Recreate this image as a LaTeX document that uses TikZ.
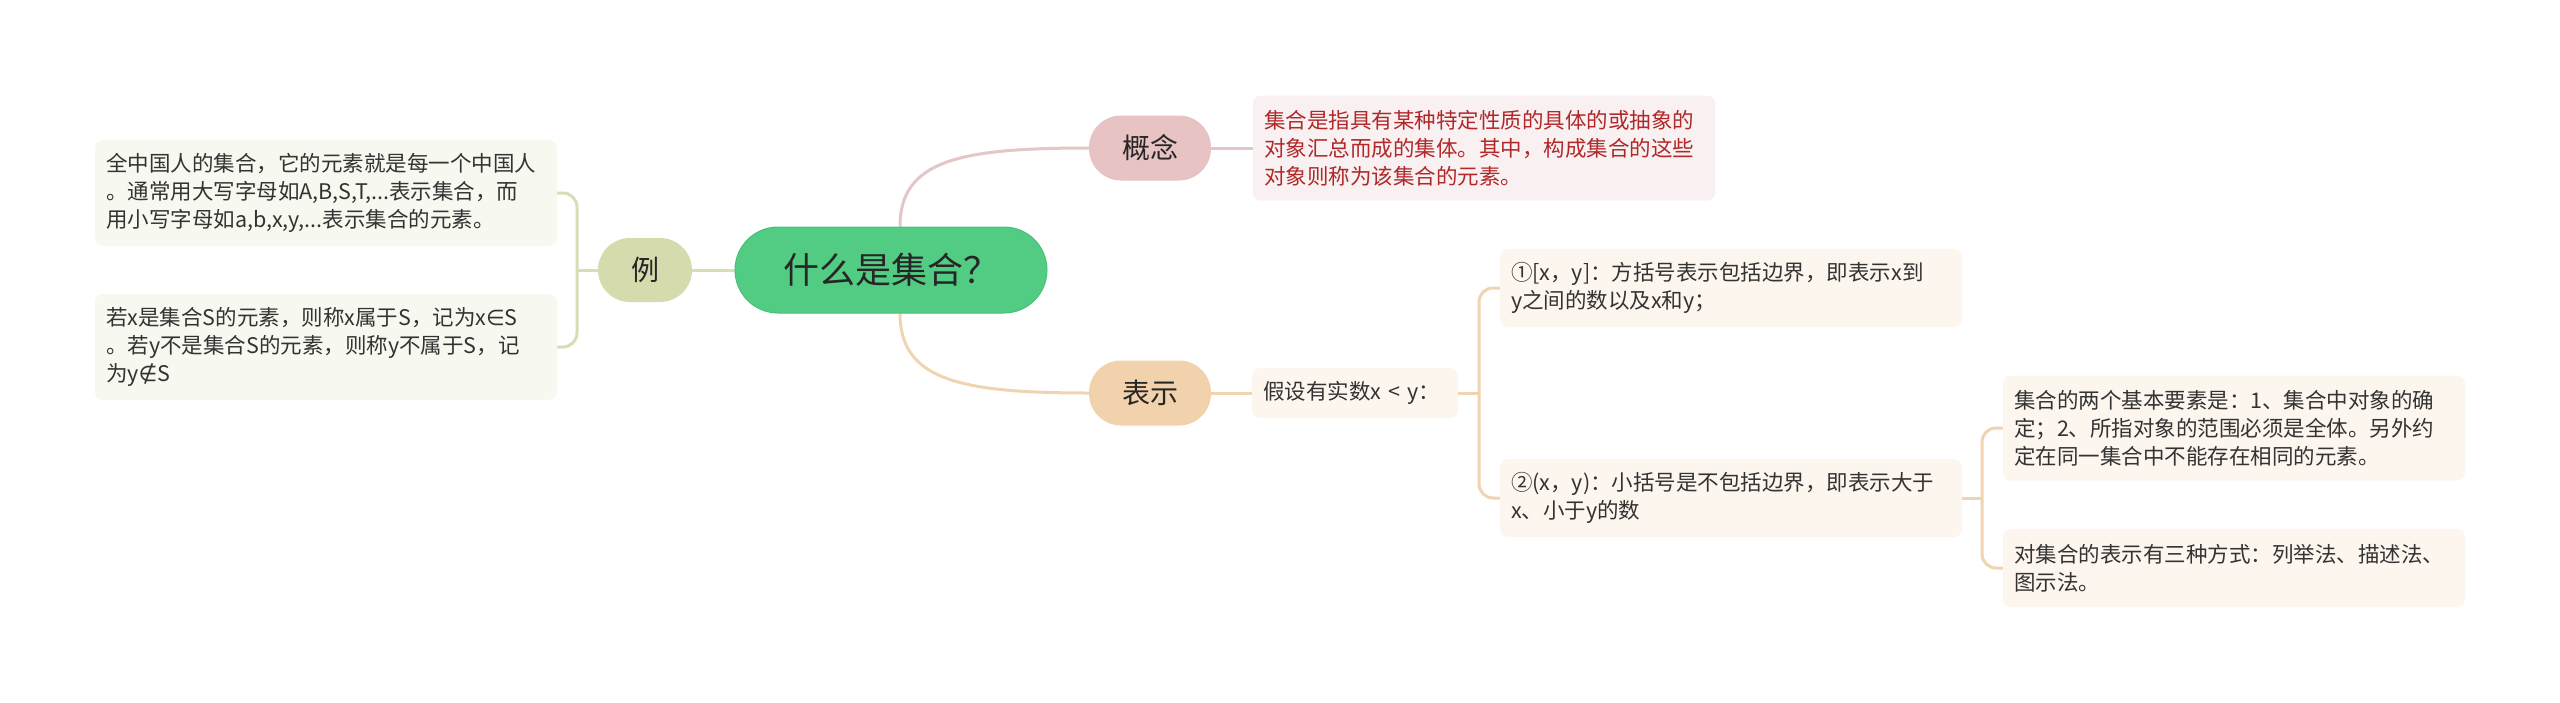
\documentclass[tikz,border=0pt]{standalone}
\usepackage{fontspec}
\setmainfont{Noto Sans CJK SC}
\newfontfamily\symfont{DejaVu Sans}
\usetikzlibrary{backgrounds}

\definecolor{rootfill}{HTML}{52CC83}
\definecolor{rootedge}{HTML}{47C079}
\definecolor{lifill}{HTML}{D6DBAE}
\definecolor{liline}{HTML}{D9DDB6}
\definecolor{exfill}{HTML}{F7F8F0}
\definecolor{gnfill}{HTML}{E8C3C3}
\definecolor{gnline}{HTML}{E5C6C6}
\definecolor{gncfill}{HTML}{F9F1F1}
\definecolor{gnctext}{HTML}{B0282A}
\definecolor{bsfill}{HTML}{F2D2AC}
\definecolor{bsline}{HTML}{F0D4B2}
\definecolor{bscfill}{HTML}{FDF6EE}
\definecolor{leaftext}{HTML}{333333}

\tikzset{
  rootnode/.style={fill=rootfill, draw=rootedge, line width=1pt, rounded corners=43pt,
    minimum width=312pt, minimum height=86pt, inner sep=0pt,
    font=\fontsize{36}{40}\selectfont, text=black!85},
  topic/.style={rounded corners=32pt, minimum width=122pt, minimum height=65pt,
    inner sep=0pt, font=\fontsize{28}{32}\selectfont, text=black!85},
  leaf/.style={rounded corners=8pt, text width=440pt, inner xsep=11pt, inner ysep=0pt,
    align=left, font=\fontsize{21.5}{28}\selectfont, text=leaftext},
  link/.style={line width=3pt}
}

\begin{document}
\begin{tikzpicture}[x=1pt, y=-1pt]
\useasboundingbox (0,0) rectangle (2560,702);

% centre
\node[rootnode] (root) at (891,270) {什么是集合？};

% left branch
\node[topic, fill=lifill, minimum width=94pt, minimum height=64pt] (li) at (645,270) {例};
\node[leaf, fill=exfill, minimum height=106pt] (ex1) at (326,193)
  {全中国人的集合，它的元素就是每一个中国人\\。通常用大写字母如A,B,S,T,...表示集合，而\\用小写字母如a,b,x,y,...表示集合的元素。};
\node[leaf, fill=exfill, minimum height=106pt] (ex2) at (326,347)
  {若x是集合S的元素，则称x属于S，记为x{\symfont ∈}S\\。若y不是集合S的元素，则称y不属于S，记\\为y{\symfont ∉}S};

% upper right branch
\node[topic, fill=gnfill] (gn) at (1150,148) {概念};
\node[leaf, fill=gncfill, text=gnctext, minimum height=105pt] (gnc) at (1484,148)
  {集合是指具有某种特定性质的具体的或抽象的\\对象汇总而成的集体。其中，构成集合的这些\\对象则称为该集合的元素。};

% lower right branch
\node[topic, fill=bsfill] (bs) at (1150,393) {表示};
\node[leaf, fill=bscfill, text width=184pt, minimum height=50pt] (jz) at (1355,393) {假设有实数x < y：};
\node[leaf, fill=bscfill, minimum height=78pt] (s1) at (1731,288)
  {①[x，y]：方括号表示包括边界，即表示x到\\y之间的数以及x和y；};
\node[leaf, fill=bscfill, minimum height=78pt] (s2) at (1731,498)
  {②(x，y)：小括号是不包括边界，即表示大于\\x、小于y的数};
\node[leaf, fill=bscfill, minimum height=105pt] (r1) at (2234,428)
  {集合的两个基本要素是：1、集合中对象的确\\定；2、所指对象的范围必须是全体。另外约\\定在同一集合中不能存在相同的元素。};
\node[leaf, fill=bscfill, minimum height=78pt] (r2) at (2234,568)
  {对集合的表示有三种方式：列举法、描述法、\\图示法。};

% bracket joints
\coordinate (liJ) at (577,270);
\coordinate (jzJ) at (1479,393);
\coordinate (s2J) at (1982,498);

\begin{scope}[on background layer]
  \fill[white] (0,0) rectangle (2560,702);
  \draw[link, liline] (root.west) -- (li.east);
  \draw[link, liline] (li.west) -- (liJ);
  \draw[link, liline, rounded corners=14pt] (ex1.east) -| (liJ) |- (ex2.east);

  \draw[link, gnline] ([xshift=9pt]root.north) .. controls (900,160) and (960,148) .. (gn.west);
  \draw[link, gnline] (gn.east) -- (gnc.west);

  \draw[link, bsline] ([xshift=9pt]root.south) .. controls (900,380) and (960,393) .. (bs.west);
  \draw[link, bsline] (bs.east) -- (jz.west);
  \draw[link, bsline] (jz.east) -- (jzJ);
  \draw[link, bsline, rounded corners=14pt] (s1.west) -| (jzJ) |- (s2.west);
  \draw[link, bsline] (s2.east) -- (s2J);
  \draw[link, bsline, rounded corners=14pt] (r1.west) -| (s2J) |- (r2.west);
\end{scope}
\end{tikzpicture}
\end{document}
